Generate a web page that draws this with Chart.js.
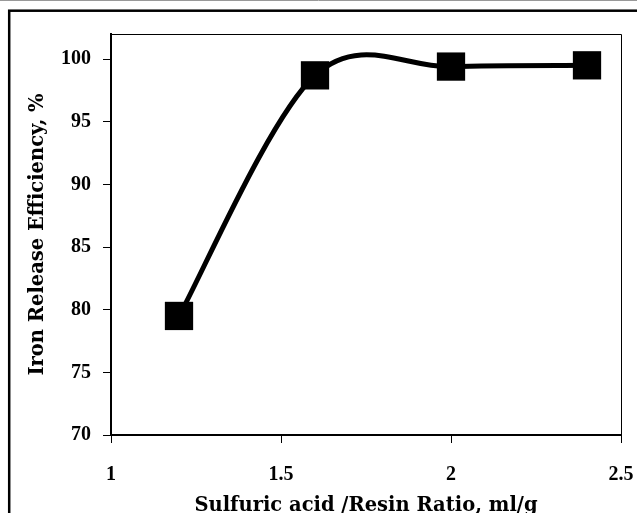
<!DOCTYPE html>
<html>
<head>
<meta charset="utf-8">
<script src="https://cdn.jsdelivr.net/npm/chart.js@4"></script>
<style>
html,body{margin:0;padding:0;background:#fff;}
#wrap{width:637px;height:513px;position:relative;}
</style>
</head>
<body>
<div id="wrap"><canvas id="c" width="637" height="513"></canvas></div>
<script>
const ratio = [1.2, 1.6, 2.0, 2.4];
const efficiency = [79.5, 98.7, 99.4, 99.5];
const xTickValues = [1, 1.5, 2, 2.5];
const yTickValues = [70, 75, 80, 85, 90, 95, 100];
const xTitle = 'Sulfuric acid /Resin Ratio, ml/g';
const yTitle = 'Iron Release Efficiency, %';

const TITLE_FONT = '"DejaVu Serif", serif';
const TICK_FONT = '"Liberation Serif", serif';

// Excel-style smoothed line: Bezier control points at 1/6 of neighbour span
const excelSmooth = {
  id: 'excelSmooth',
  beforeDatasetsDraw(chart) {
    const meta = chart.getDatasetMeta(0);
    const line = meta.dataset;
    line.updateControlPoints(chart.chartArea, 'x');
    const pts = meta.data;
    for (let i = 0; i < pts.length; i++) {
      const p = pts[i];
      const prev = pts[i - 1] || p;
      const next = pts[i + 1] || p;
      const dx = (next.x - prev.x) / 6;
      const dy = (next.y - prev.y) / 6;
      p.cp1x = p.x - dx; p.cp1y = p.y - dy;
      p.cp2x = p.x + dx; p.cp2y = p.y + dy;
    }
  }
};

const frame = {
  id: 'frame',
  afterDraw(chart) {
    const ctx = chart.ctx;
    const a = chart.chartArea;
    ctx.save();
    ctx.strokeStyle = '#000';
    ctx.lineWidth = 1;
    ctx.beginPath();
    ctx.moveTo(a.left, a.top + 0.5);
    ctx.lineTo(a.right + 0.5, a.top + 0.5);
    ctx.lineTo(a.right + 0.5, a.bottom);
    ctx.stroke();
    ctx.lineWidth = 2.5;
    ctx.strokeRect(9.2, 10.7, 700, 700);
    ctx.strokeStyle = '#999';
    ctx.lineWidth = 1;
    ctx.beginPath();
    ctx.moveTo(0, 0.5);
    ctx.lineTo(637, 0.5);
    ctx.stroke();
    ctx.restore();
  }
};

new Chart(document.getElementById('c'), {
  type: 'line',
  data: {
    datasets: [{
      data: ratio.map((x, i) => ({x, y: efficiency[i]})),
      borderColor: '#000',
      backgroundColor: '#000',
      borderWidth: 5,
      tension: 0.4,
      pointStyle: 'rect',
      pointRadius: 20,
      pointHoverRadius: 20,
      pointBorderWidth: 0,
      fill: false,
      clip: false
    }]
  },
  options: {
    responsive: false,
    animation: false,
    events: [],
    layout: {autoPadding: false, padding: {top: 34, right: 16, left: 0, bottom: 0}},
    plugins: {legend: {display: false}, tooltip: {enabled: false}},
    scales: {
      x: {
        type: 'linear',
        min: 1, max: 2.5,
        afterFit(s) { s.height = 78; s.paddingLeft = 0; s.paddingRight = 0; },
        afterBuildTicks(s) { s.ticks = xTickValues.map(v => ({value: v})); },
        grid: {drawOnChartArea: false, drawTicks: true, tickLength: 8, color: '#000', tickWidth: 1},
        border: {display: true, color: '#000', width: 2},
        ticks: {color: '#000', padding: 20, font: {family: TICK_FONT, size: 20, weight: 'bold'}, callback: v => String(v), maxRotation: 0},
        title: {display: true, text: xTitle, color: '#000', font: {family: TITLE_FONT, size: 19.5, weight: 'bold'}, padding: {top: 0, bottom: -5}}
      },
      y: {
        type: 'linear',
        min: 70, max: 102,
        afterFit(s) { s.width = 111; s.paddingTop = 0; s.paddingBottom = 0; },
        afterBuildTicks(s) { s.ticks = yTickValues.map(v => ({value: v})); },
        grid: {drawOnChartArea: false, drawTicks: true, tickLength: 8, color: '#000', tickWidth: 1},
        border: {display: true, color: '#000', width: 2},
        ticks: {color: '#000', padding: 12, font: {family: TICK_FONT, size: 20, weight: 'bold'}, callback: v => String(v)},
        title: {display: true, text: yTitle, color: '#000', font: {family: TITLE_FONT, size: 19.5, weight: 'bold'}, padding: {top: 26, bottom: 0}}
      }
    }
  },
  plugins: [excelSmooth, frame]
});
</script>
</body>
</html>
